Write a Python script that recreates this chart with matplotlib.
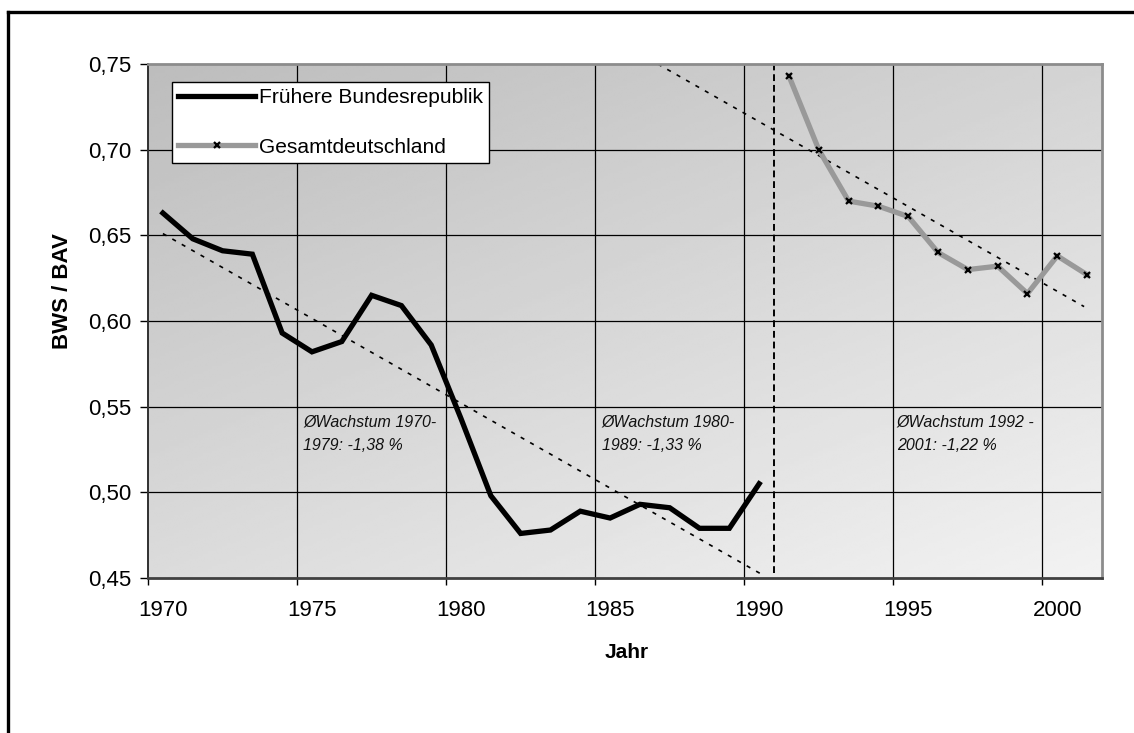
import matplotlib
matplotlib.use('Agg')
import matplotlib.pyplot as plt
import numpy as np
from matplotlib.lines import Line2D

plt.rcParams['font.family'] = ['Liberation Sans', 'DejaVu Sans']

# Daten
jahre_brd = list(range(1970, 1991))
werte_brd = [0.663, 0.648, 0.641, 0.639, 0.593, 0.582, 0.588, 0.615, 0.609, 0.586,
             0.543, 0.498, 0.476, 0.478, 0.489, 0.485, 0.493, 0.491, 0.479, 0.479, 0.505]
jahre_ges = list(range(1991, 2002))
werte_ges = [0.743, 0.700, 0.670, 0.667, 0.661, 0.640, 0.630, 0.632, 0.616, 0.638, 0.627]

# Trendlinien (Endpunkte)
trend1_x = [1970, 1990.1]
trend1_y = [0.651, 0.452]
trend2_x = [1986.6, 2000.9]
trend2_y = [0.75, 0.6084]

trennjahr = 1990.5

y_ticks = [0.45, 0.50, 0.55, 0.60, 0.65, 0.70, 0.75]
y_labels = ['0,45', '0,50', '0,55', '0,60', '0,65', '0,70', '0,75']
x_label_jahre = [1970, 1975, 1980, 1985, 1990, 1995, 2000]

texte = [(1974.7, 'ØWachstum 1970-\n1979: -1,38 %'),
         (1984.72, 'ØWachstum 1980-\n1989: -1,33 %'),
         (1994.62, 'ØWachstum 1992 -\n2001: -1,22 %')]

fig = plt.figure(figsize=(11.34, 7.33), dpi=100)
ax = fig.add_axes([148 / 1134, 1 - 578 / 733, 954 / 1134, 514 / 733])

# Hintergrund mit Verlauf
gx, gy = np.meshgrid(np.linspace(0, 1, 200), np.linspace(1, 0, 200))
grad = 0.74 + 0.09 * gx + 0.12 * (1 - gy)
ax.imshow(grad, cmap='gray', vmin=0, vmax=1, extent=[0, 1, 0, 1],
          transform=ax.transAxes, aspect='auto', zorder=0, interpolation='bilinear')

ax.set_xlim(1969.5, 2001.5)
ax.set_ylim(0.45, 0.75)

# Gitter
for yv in y_ticks[1:-1]:
    ax.axhline(yv, color='black', lw=0.9, zorder=1)
for xv in np.arange(1974.5, 2000, 5):
    ax.axvline(xv, color='black', lw=0.9, zorder=1)

# Trendlinien
ax.plot(trend1_x, trend1_y, color='black', lw=1.2, ls=(0, (2.5, 4)), zorder=2)
ax.plot(trend2_x, trend2_y, color='black', lw=1.2, ls=(0, (2.5, 4)), zorder=2)
ax.plot([trennjahr, trennjahr], [0.453, 0.752], color='black', lw=1.4,
        ls=(0, (3.5, 2)), zorder=2, clip_on=False)

# Linien
ax.plot(jahre_brd, werte_brd, color='black', lw=3.8, solid_joinstyle='miter',
        label='Frühere Bundesrepublik', zorder=3)
ax.plot(jahre_ges, werte_ges, color='#999999', lw=3.8, marker='x', markersize=4.5,
        markeredgecolor='black', markeredgewidth=1.6, label='Gesamtdeutschland', zorder=3)

for xt, txt in texte:
    ax.text(xt, 0.5455, txt, fontsize=11.5, style='italic', ha='left', va='top',
            linespacing=1.7, color='#111111', zorder=4)

# Achsen
ax.set_yticks(y_ticks)
ax.set_yticklabels(y_labels)
ax.set_xticks(np.arange(1969.5, 2001, 5))
ax.set_xticklabels([])
ax.set_xticks(x_label_jahre, minor=True)
ax.set_xticklabels([str(j) for j in x_label_jahre], minor=True)
ax.tick_params(axis='x', which='major', direction='out', length=5, width=1)
ax.tick_params(axis='x', which='minor', length=0, pad=16, labelsize=16)
ax.tick_params(axis='y', direction='out', length=6, width=1, pad=6, labelsize=16)

for s in ['top', 'right']:
    ax.spines[s].set_color('#8c8c8c')
    ax.spines[s].set_linewidth(2)
ax.spines['left'].set_color('#303030')
ax.spines['left'].set_linewidth(1.4)
ax.spines['bottom'].set_color('#404040')
ax.spines['bottom'].set_linewidth(2)

leg = ax.legend(loc='upper left', bbox_to_anchor=(24 / 954, 1 - 18 / 514), borderaxespad=0,
                fontsize=15.1, frameon=True, fancybox=False, edgecolor='black',
                framealpha=1, handlelength=3.65, handletextpad=0.2, labelspacing=1.45,
                borderpad=0.3)
leg.get_frame().set_linewidth(1)

fig.text(627 / 1134, 1 - 653 / 733, 'Jahr', fontsize=15, fontweight='bold',
         ha='center', va='center')
fig.text(62 / 1134, 1 - 291 / 733, 'BWS / BAV', fontsize=16, fontweight='bold',
         ha='center', va='center', rotation=90)

# Rahmen
fig.add_artist(Line2D([8 / 1134, 1], [1 - 12 / 733, 1 - 12 / 733], color='black', lw=2.4,
                      transform=fig.transFigure, solid_capstyle='projecting'))
fig.add_artist(Line2D([8 / 1134, 8 / 1134], [0, 1 - 12 / 733], color='black', lw=2.4,
                      transform=fig.transFigure, solid_capstyle='projecting'))

fig.savefig('out.png', dpi=100)
